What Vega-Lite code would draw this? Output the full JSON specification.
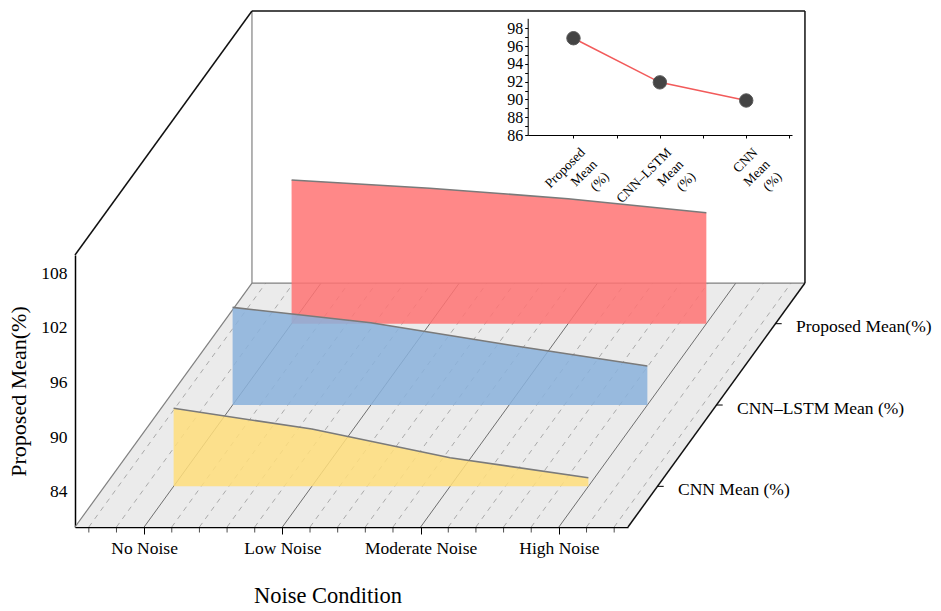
{
  "$schema": "https://vega.github.io/schema/vega-lite/v6.json",
  "width": 553,
  "height": 272,
  "autosize": {"type": "none"},
  "padding": {"left": 75, "top": 255, "right": 313, "bottom": 84},
  "background": "#FFFFFF",
  "datasets": {
    "ribbons": [
      {"series": "Proposed Mean(%)", "noise": "No Noise", "value": 95.9},
      {"series": "Proposed Mean(%)", "noise": "Low Noise", "value": 95.0},
      {"series": "Proposed Mean(%)", "noise": "Moderate Noise", "value": 93.85},
      {"series": "Proposed Mean(%)", "noise": "High Noise", "value": 92.3},
      {"series": "CNN–LSTM Mean (%)", "noise": "No Noise", "value": 90.85},
      {"series": "CNN–LSTM Mean (%)", "noise": "Low Noise", "value": 89.16},
      {"series": "CNN–LSTM Mean (%)", "noise": "Moderate Noise", "value": 86.71},
      {"series": "CNN–LSTM Mean (%)", "noise": "High Noise", "value": 84.4},
      {"series": "CNN Mean (%)", "noise": "No Noise", "value": 88.69},
      {"series": "CNN Mean (%)", "noise": "Low Noise", "value": 86.41},
      {"series": "CNN Mean (%)", "noise": "Moderate Noise", "value": 83.26},
      {"series": "CNN Mean (%)", "noise": "High Noise", "value": 81.06}
    ],
    "means": [
      {"model": "Proposed Mean(%)", "mean": 96.88},
      {"model": "CNN–LSTM Mean (%)", "mean": 91.92},
      {"model": "CNN Mean (%)", "mean": 89.88}
    ],
    "xgrid": [
      {"pos": -0.4}, {"pos": -0.2}, {"pos": 0}, {"pos": 0.2}, {"pos": 0.4},
      {"pos": 0.6}, {"pos": 0.8}, {"pos": 1}, {"pos": 1.2}, {"pos": 1.4},
      {"pos": 1.6}, {"pos": 1.8}, {"pos": 2}, {"pos": 2.2}, {"pos": 2.4},
      {"pos": 2.6}, {"pos": 2.8}, {"pos": 3}, {"pos": 3.2}, {"pos": 3.4}
    ],
    "box": [
      {"edge": "wall", "x0": -0.5, "d0": 0, "v0": 110, "x1": -0.5, "d1": 1, "v1": 110},
      {"edge": "wall", "x0": -0.5, "d0": 1, "v0": 110, "x1": 3.5, "d1": 1, "v1": 110},
      {"edge": "wall", "x0": 3.5, "d0": 1, "v0": 110, "x1": 3.5, "d1": 1, "v1": 80.12},
      {"edge": "wall", "x0": 3.5, "d0": 0, "v0": 80.12, "x1": 3.5, "d1": 1, "v1": 80.12},
      {"edge": "back", "x0": -0.5, "d0": 1, "v0": 80.12, "x1": -0.5, "d1": 1, "v1": 110},
      {"edge": "back", "x0": -0.5, "d0": 1, "v0": 80.12, "x1": 3.5, "d1": 1, "v1": 80.12},
      {"edge": "back", "x0": -0.5, "d0": 0, "v0": 80.12, "x1": -0.5, "d1": 1, "v1": 80.12}
    ],
    "floor": [{"d": 0}, {"d": 1}]
  },
  "layer": [
    {
      "encoding": {
        "x": {
          "field": "sx", "type": "quantitative",
          "scale": {"domain": [-0.5, 3.5], "nice": false, "zero": false},
          "axis": {
            "orient": "bottom", "values": [0, 1, 2, 3],
            "labelExpr": "['No Noise','Low Noise','Moderate Noise','High Noise'][datum.value]",
            "tickSize": 7, "domainWidth": 1.5, "labelPadding": 5, "labelFontSize": 17.5,
            "labelFlush": false, "labelOverlap": false,
            "title": "Noise Condition", "titleFontSize": 22.5, "titlePadding": 28, "titleX": 252.5
          }
        },
        "y": {
          "field": "sy", "type": "quantitative",
          "scale": {"domain": [80.12, 110], "nice": false, "zero": false},
          "axis": {
            "orient": "left", "values": [84, 90, 96, 102, 108],
            "ticks": false, "domainWidth": 1.5, "labelPadding": 8, "labelFontSize": 17.5,
            "labelFlush": false, "labelOverlap": false,
            "title": "Proposed Mean(%)", "titleFontSize": 22, "titlePadding": 10
          }
        }
      },
      "layer": [
        {
          "data": {"name": "floor"},
          "transform": [
            {"calculate": "80.12 + datum.d * 26.8", "as": "sy"},
            {"calculate": "-0.5 + datum.d * 1.28", "as": "sx"},
            {"calculate": "3.5 + datum.d * 1.28", "as": "sx2"}
          ],
          "mark": {"type": "area", "orient": "horizontal", "color": "#ebebeb"},
          "encoding": {"x2": {"field": "sx2"}}
        },
        {
          "data": {"name": "xgrid"},
          "transform": [
            {"filter": "datum.pos % 1 !== 0"},
            {"calculate": "datum.pos", "as": "sx"},
            {"calculate": "80.12", "as": "sy"},
            {"calculate": "datum.pos + 1.28", "as": "sx2"},
            {"calculate": "80.12 + 26.8", "as": "sy2"}
          ],
          "mark": {"type": "rule", "color": "#aaaaaa", "strokeWidth": 1, "strokeDash": [5, 5]},
          "encoding": {"x2": {"field": "sx2"}, "y2": {"field": "sy2"}}
        },
        {
          "data": {"name": "xgrid"},
          "transform": [
            {"filter": "datum.pos % 1 === 0"},
            {"calculate": "datum.pos", "as": "sx"},
            {"calculate": "80.12", "as": "sy"},
            {"calculate": "datum.pos + 1.28", "as": "sx2"},
            {"calculate": "80.12 + 26.8", "as": "sy2"}
          ],
          "mark": {"type": "rule", "color": "#6e6e6e", "strokeWidth": 1},
          "encoding": {"x2": {"field": "sx2"}, "y2": {"field": "sy2"}}
        },
        {
          "data": {"name": "xgrid"},
          "transform": [
            {"filter": "datum.pos % 1 !== 0"},
            {"calculate": "datum.pos", "as": "sx"},
            {"calculate": "80.12", "as": "sy"}
          ],
          "mark": {"type": "tick", "orient": "vertical", "size": 5, "thickness": 1, "yOffset": 3, "color": "black"}
        },
        {
          "data": {"name": "box"},
          "transform": [
            {"calculate": "datum.x0 + datum.d0 * 1.28", "as": "sx"},
            {"calculate": "datum.v0 + datum.d0 * 26.8", "as": "sy"},
            {"calculate": "datum.x1 + datum.d1 * 1.28", "as": "sx2"},
            {"calculate": "datum.v1 + datum.d1 * 26.8", "as": "sy2"}
          ],
          "encoding": {"x2": {"field": "sx2"}, "y2": {"field": "sy2"}},
          "layer": [
            {
              "transform": [{"filter": "datum.edge === 'back'"}],
              "mark": {"type": "rule", "strokeWidth": 1.2, "color": "#808080"}
            },
            {
              "transform": [{"filter": "datum.edge === 'wall'"}],
              "mark": {"type": "rule", "strokeWidth": 1.5, "color": "#111111"}
            }
          ]
        },
        {
          "data": {"name": "ribbons"},
          "transform": [
            {"calculate": "indexof(['No Noise','Low Noise','Moderate Noise','High Noise'], datum.noise)", "as": "xi"},
            {"calculate": "(indexof(['CNN Mean (%)','CNN–LSTM Mean (%)','Proposed Mean(%)'], datum.series) + 0.5) / 3", "as": "d"},
            {"calculate": "datum.xi + datum.d * 1.28", "as": "sx"},
            {"calculate": "datum.value + datum.d * 26.8", "as": "sy"},
            {"calculate": "80.12 + datum.d * 26.8", "as": "sy2"}
          ],
          "layer": [
            {
              "mark": {"type": "area", "fillOpacity": 0.85},
              "encoding": {
                "y2": {"field": "sy2"},
                "color": {
                  "field": "series", "type": "nominal",
                  "scale": {"domain": ["Proposed Mean(%)", "CNN–LSTM Mean (%)", "CNN Mean (%)"], "range": ["#ff7373", "#8ab2dc", "#ffde7b"]},
                  "legend": null
                }
              }
            },
            {
              "mark": {"type": "line", "color": "#7a7a7a", "strokeWidth": 1.6},
              "encoding": {"detail": {"field": "series"}}
            }
          ]
        },
        {
          "data": {"name": "ribbons"},
          "transform": [
            {"filter": "datum.noise === 'No Noise'"},
            {"calculate": "(indexof(['CNN Mean (%)','CNN–LSTM Mean (%)','Proposed Mean(%)'], datum.series) + 0.5) / 3", "as": "d"},
            {"calculate": "3.5 + datum.d * 1.28", "as": "sx"},
            {"calculate": "80.12 + datum.d * 26.8", "as": "sy"},
            {"calculate": "datum.sx + 0.045", "as": "sx2"}
          ],
          "layer": [
            {
              "mark": {"type": "rule", "color": "black", "strokeWidth": 1},
              "encoding": {"x2": {"field": "sx2"}}
            },
            {
              "mark": {"type": "text", "align": "left", "baseline": "middle", "dx": 20.5, "dy": 3.5, "fontSize": 17.5, "color": "black"},
              "encoding": {"text": {"field": "series"}}
            }
          ]
        }
      ]
    },
    {
      "data": {"name": "means"},
      "transform": [
        {"calculate": "indexof(['Proposed Mean(%)','CNN–LSTM Mean (%)','CNN Mean (%)'], datum.model)", "as": "ix"}
      ],
      "encoding": {
        "x": {
          "field": "ix", "type": "quantitative",
          "scale": {"domain": [-0.53, 2.53], "range": [452.7, 717], "nice": false, "zero": false},
          "axis": {
            "orient": "bottom", "offset": -392, "values": [0, 0.5, 1, 1.5, 2, 2.5],
            "labelExpr": "datum.value == 0 ? ['Proposed','Mean','(%)'] : datum.value == 1 ? ['CNN–LSTM','Mean','(%)'] : datum.value == 2 ? ['CNN','Mean','(%)'] : ''",
            "labelAngle": -45, "labelAlign": "right", "labelBaseline": "top", "labelLineHeight": 17,
            "labelFontSize": 13.5, "labelOffset": 4, "labelPadding": 7, "tickSize": 3,
            "labelFlush": false, "labelOverlap": false, "title": null
          }
        },
        "y": {
          "field": "mean", "type": "quantitative",
          "scale": {"domain": [86, 99.12], "range": [-120, -236.7], "nice": false, "zero": false},
          "axis": {
            "orient": "left", "offset": -452.7, "values": [86, 87, 88, 89, 90, 91, 92, 93, 94, 95, 96, 97, 98],
            "labelExpr": "datum.value % 2 == 0 ? datum.label : ''",
            "tickSize": 3, "labelPadding": 2, "labelFontSize": 16,
            "labelFlush": false, "labelOverlap": false, "title": null
          }
        }
      },
      "layer": [
        {
          "data": {"values": [{"frame": 1}]},
          "mark": {"type": "rect", "fillOpacity": 0, "stroke": "black", "strokeWidth": 1.3},
          "encoding": {
            "x": {"datum": -0.53, "type": "quantitative"},
            "x2": {"datum": 2.53},
            "y": {"datum": 86, "type": "quantitative"},
            "y2": {"datum": 99.12}
          }
        },
        {"mark": {"type": "line", "color": "#f25a5a", "strokeWidth": 1.5}},
        {"mark": {"type": "point", "filled": true, "size": 180, "color": "#444444", "opacity": 1, "stroke": "#5a5a5a", "strokeWidth": 1}}
      ]
    }
  ],
  "resolve": {"scale": {"x": "independent", "y": "independent"}},
  "config": {
    "view": {"stroke": null},
    "font": "Liberation Serif",
    "axis": {
      "labelFont": "Liberation Serif", "titleFont": "Liberation Serif",
      "labelColor": "black", "titleColor": "black", "titleFontWeight": "normal",
      "grid": false, "domainColor": "black", "tickColor": "black"
    },
    "text": {"font": "Liberation Serif"}
  }
}
